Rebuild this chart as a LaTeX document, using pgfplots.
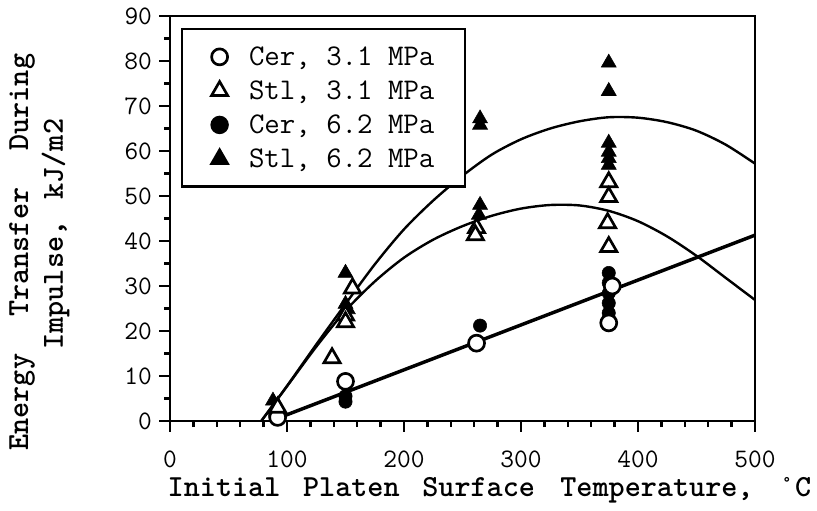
\documentclass[border=0pt]{standalone}
\usepackage{pgfplots}
\pgfplotsset{compat=1.18}
\begin{document}
\begin{tikzpicture}
\begin{axis}[
  scale only axis,
  width=438.75pt, height=303.75pt,
  xmin=0, xmax=500, ymin=0, ymax=90,
  xtick={0,100,...,500}, ytick={0,10,...,90},
  minor x tick num=4, minor y tick num=1,
  axis line style={line width=2pt},
  every tick/.style={line width=1.7pt, black},
  tick align=outside,
  major tick length=8pt, minor tick length=4.5pt,
  xtick pos=bottom, ytick pos=left,
  /pgf/number format/assume math mode=true,
  ticklabel style={font=\fontsize{20}{20}\selectfont\ttfamily},
  xticklabel style={yshift=-11pt},
  yticklabel style={xshift=-2pt},
  xlabel={Initial\hspace{17pt}Platen\hspace{17pt}Surface\hspace{19pt}Temperature,\hspace{19pt}\textdegree C},
  xlabel style={at={(axis description cs:0.546,-0.172)}, anchor=center},
  ylabel={Energy\hspace{28pt}Transfer\hspace{28pt}During\\[3pt]\hspace*{27pt}Impulse,\hspace{16pt}kJ/m2},
  ylabel style={at={(axis description cs:-0.2234,0.417)}, anchor=center, align=center},
  label style={font=\fontsize{23}{23}\selectfont\ttfamily\bfseries},
  legend style={at={(0,1)}, anchor=north west, xshift=8.25pt, yshift=-9pt,
    draw=black, line width=1.8pt, fill=white,
    font=\fontsize{22.5}{22.5}\selectfont\ttfamily,
    nodes={inner sep=1pt},
    row sep=8pt, column sep=15pt, inner xsep=22pt, inner ysep=12pt},
  legend cell align=left,
]
% legend markers
\addlegendimage{only marks, mark=*, mark size=6pt, mark options={draw=black, fill=white, line width=2pt}}
\addlegendentry{Cer, 3.1 MPa}
\addlegendimage{only marks, mark=triangle*, mark size=7pt, mark options={draw=black, fill=white, line width=2pt}}
\addlegendentry{Stl, 3.1 MPa}
\addlegendimage{only marks, mark=*, mark size=6pt, mark options={draw=black, fill=black}}
\addlegendentry{Cer, 6.2 MPa}
\addlegendimage{only marks, mark=triangle*, mark size=7pt, mark options={draw=black, fill=black}}
\addlegendentry{Stl, 6.2 MPa}

% fitted curves
\addplot[forget plot, line width=1.8pt, smooth, tension=0.5] coordinates {
 (78,0) (100,7.8) (125,17) (150,26) (175,34.8) (200,42.6) (225,49)
 (250,54.5) (275,59.2) (300,62.6) (325,65) (350,66.6) (375,67.5)
 (400,67.4) (425,66.4) (450,64.5) (475,61.4) (500,57.2)};
\addplot[forget plot, line width=1.8pt, smooth, tension=0.5] coordinates {
 (78,0) (100,7.7) (125,16.5) (150,24.5) (175,31) (200,36.3) (225,40.3)
 (250,43.3) (275,45.6) (300,47.2) (325,48) (350,47.9) (375,46.7)
 (400,44.4) (425,41) (450,36.7) (475,31.8) (500,26.9)};
\addplot[forget plot, line width=2.6pt] coordinates {(86,0) (500,41.3)};

% Cer, 6.2 MPa
\addplot[forget plot, only marks, mark=*, mark size=5pt, mark options={draw=black, fill=black}] coordinates {
 (90,1.2) (150,5.5) (150,4.3) (265,21.2)
 (375,32.9) (375,30.7) (375,28.4) (375,26.2) (375,24)};
% Stl, 6.2 MPa
\addplot[forget plot, only marks, mark=triangle*, mark size=6.5pt, mark options={draw=black, fill=black}] coordinates {
 (88,4.5) (90,2.5) (150,32.9) (150,26) (152,24.8)
 (265,67.2) (265,65.8) (265,48) (264,45.8)
 (375,79.6) (375,73.3) (375,61.8) (375,59.8) (375,58.4) (375,56.9)};
% Cer, 3.1 MPa
\addplot[forget plot, only marks, mark=*, mark size=6pt, mark options={draw=black, fill=white, line width=2pt}] coordinates {
 (92,0.8) (150,8.8) (262,17.3) (375,21.8) (378,30)};
% Stl, 3.1 MPa
\addplot[forget plot, only marks, mark=triangle*, mark size=7pt, mark options={draw=black, fill=white, line width=2pt}] coordinates {
 (92,3) (138.5,14) (156,29.5) (150,23.5) (150,22)
 (262,42.9) (261,41.3)
 (375,53.1) (375,49.8) (374,44) (375,38.7)};
\end{axis}
% page margins around the axis box
\path ([shift={(-127.5pt,-66.75pt)}]current axis.south west)
  rectangle ([shift={(46.5pt,12pt)}]current axis.north east);
\end{tikzpicture}
\end{document}
